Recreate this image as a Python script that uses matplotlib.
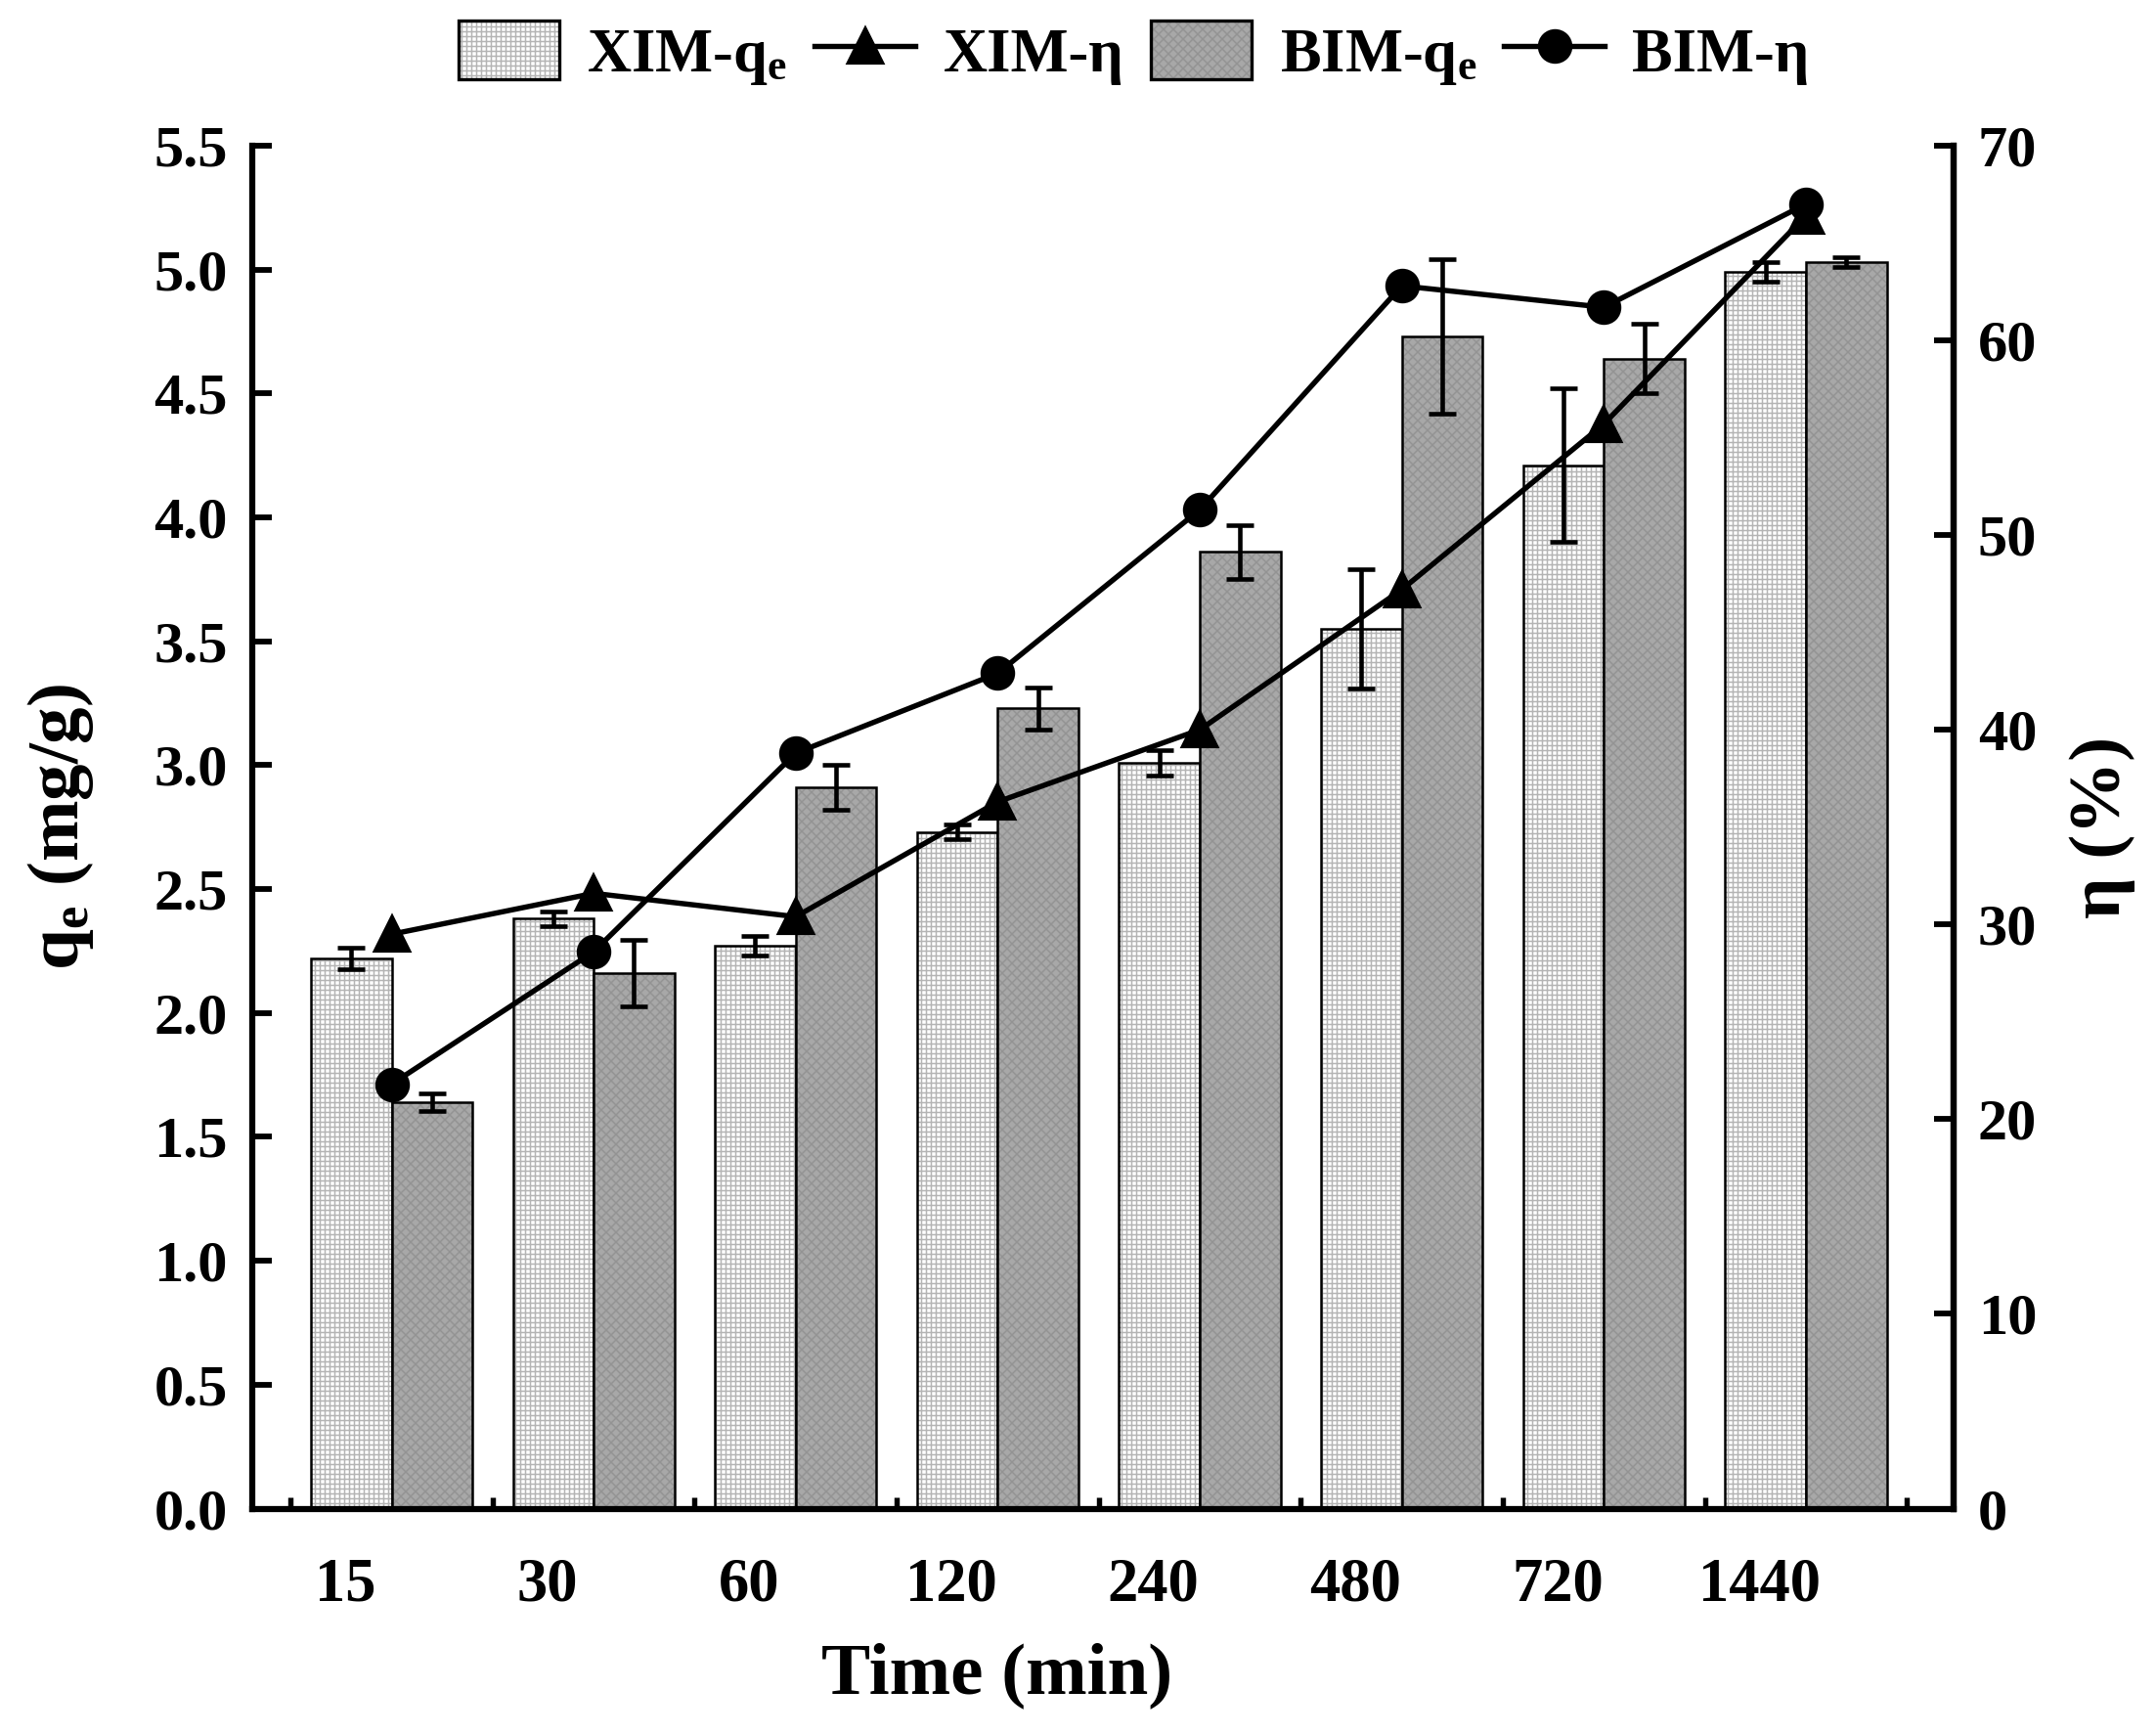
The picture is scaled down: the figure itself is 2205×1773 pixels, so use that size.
import numpy as np
import matplotlib
matplotlib.use("Agg")
import matplotlib.pyplot as plt
from matplotlib.patches import Patch
from matplotlib.legend_handler import HandlerTuple

plt.rcParams['font.family'] = ['Liberation Serif', 'DejaVu Serif']
plt.rcParams['font.weight'] = 'bold'
plt.rcParams['mathtext.fontset'] = 'custom'
plt.rcParams['mathtext.rm'] = 'Liberation Serif:bold'
plt.rcParams['mathtext.bf'] = 'Liberation Serif:bold'
plt.rcParams['mathtext.it'] = 'Liberation Serif:bold'
plt.rcParams['hatch.linewidth'] = 0.35

# data
times = ['15', '30', '60', '120', '240', '480', '720', '1440']
xim_qe = [2.22, 2.38, 2.27, 2.73, 3.01, 3.55, 4.21, 4.99]
xim_qe_err = [0.045, 0.03, 0.04, 0.03, 0.05, 0.24, 0.31, 0.04]
bim_qe = [1.64, 2.16, 2.91, 3.23, 3.86, 4.73, 4.64, 5.03]
bim_qe_err = [0.035, 0.135, 0.09, 0.085, 0.11, 0.31, 0.14, 0.02]
xim_eta = [29.5, 31.6, 30.4, 36.3, 40.0, 47.2, 55.7, 66.4]
bim_eta = [21.8, 28.6, 38.8, 42.9, 51.3, 62.8, 61.7, 67.0]

x = np.arange(len(times))
w = 0.4
xim_face, xim_hatch, xim_hcol = 'white', '+' * 10, '#b4b4b4'
bim_face, bim_hatch, bim_hcol = '#a8a8a8', 'x' * 10, '#939393'

fig = plt.figure(figsize=(7.35, 5.91), dpi=300)
ax = fig.add_axes([0.117, 0.13, 0.789, 0.786])

# bars: hatch layer then black outline
ax.bar(x - w / 2, xim_qe, w, color=xim_face, edgecolor=xim_hcol, hatch=xim_hatch, linewidth=0)
ax.bar(x - w / 2, xim_qe, w, fill=False, edgecolor='black', linewidth=0.6)
ax.bar(x + w / 2, bim_qe, w, color=bim_face, edgecolor=bim_hcol, hatch=bim_hatch, linewidth=0)
ax.bar(x + w / 2, bim_qe, w, fill=False, edgecolor='black', linewidth=0.6)
ax.errorbar(x - w / 2, xim_qe, yerr=xim_qe_err, fmt='none', ecolor='black',
            elinewidth=1.1, capsize=3.4, capthick=1.1)
ax.errorbar(x + w / 2, bim_qe, yerr=bim_qe_err, fmt='none', ecolor='black',
            elinewidth=1.1, capsize=3.4, capthick=1.1)

ax.set_xlim(-0.69, 7.73)
ax.set_ylim(0, 5.5)
ax.set_yticks(np.arange(0, 5.51, 0.5))
ax.set_yticklabels([f'{v:.1f}' for v in np.arange(0, 5.51, 0.5)])
ax.set_xticks(x - 0.23)
ax.set_xticklabels(times)
ax.set_xticks(np.arange(-0.5, 7.6, 1), minor=True)
ax.tick_params(axis='x', which='major', length=0, pad=12, labelsize=15)
ax.tick_params(axis='x', which='minor', direction='in', length=2.8, width=1.3)
ax.tick_params(axis='y', which='major', direction='in', length=4.8, width=1.4,
               pad=6, labelsize=14.5)
for s in ['left', 'bottom', 'right']:
    ax.spines[s].set_linewidth(1.5)
ax.spines['top'].set_visible(False)

ax.set_xlabel('Time (min)', fontsize=18, fontweight='bold')
ax.xaxis.set_label_coords(0.438, -0.098)
ax.set_ylabel(r'$\mathbf{q_e}$ (mg/g)', fontsize=18, fontweight='bold')
ax.yaxis.set_label_coords(-0.092, 0.5)

ax2 = ax.twinx()
l1, = ax2.plot(x, xim_eta, color='black', linewidth=1.3, marker='^', markersize=8)
l2, = ax2.plot(x, bim_eta, color='black', linewidth=1.3, marker='o', markersize=7.5)
ax2.set_ylim(0, 70)
ax2.set_yticks(np.arange(0, 71, 10))
ax2.tick_params(axis='y', direction='in', length=4.8, width=1.4, pad=6, labelsize=14.5)
ax2.spines['top'].set_visible(False)
ax2.spines['right'].set_linewidth(1.5)
ax2.set_ylabel('η (%)', fontsize=18, fontweight='bold', rotation=90)
ax2.yaxis.set_label_coords(1.068, 0.5)

h_xim = (Patch(facecolor=xim_face, edgecolor=xim_hcol, hatch=xim_hatch, linewidth=0),
         Patch(fill=False, edgecolor='black', linewidth=0.8))
h_bim = (Patch(facecolor=bim_face, edgecolor=bim_hcol, hatch=bim_hatch, linewidth=0),
         Patch(fill=False, edgecolor='black', linewidth=0.8))
fig.legend([h_xim, l1, h_bim, l2],
           [r'XIM-$\mathbf{q_e}$', 'XIM-η', r'BIM-$\mathbf{q_e}$', 'BIM-η'],
           handler_map={tuple: HandlerTuple(ndivide=1)},
           loc='center', bbox_to_anchor=(0.526, 0.969), ncol=4, frameon=False,
           prop={'size': 15, 'weight': 'bold'}, handlelength=1.65, handleheight=1.1,
           handletextpad=0.45, columnspacing=0.45)

fig.savefig('out.png', dpi=300)
